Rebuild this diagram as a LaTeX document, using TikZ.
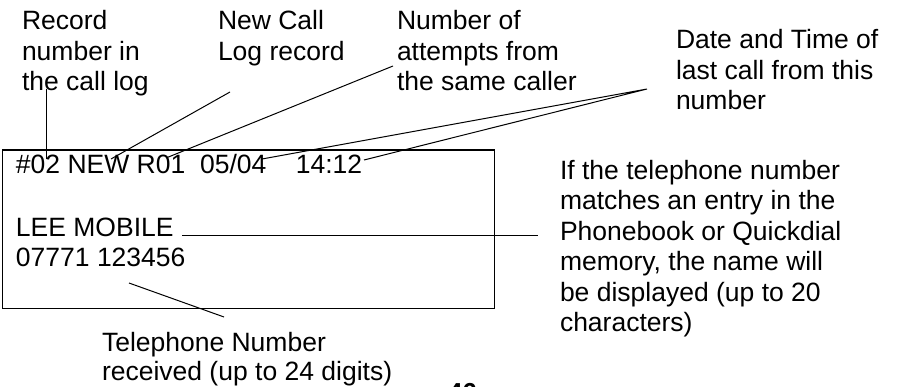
\documentclass[tikz,border=0pt]{standalone}
\usepackage{fontspec}
\setmainfont{Liberation Sans}
\begin{document}
\begin{tikzpicture}[x=1pt,y=-1pt,
  lbl/.style={inner sep=0pt, outer sep=0pt, anchor=base west, align=left,
    font=\fontsize{26.5}{30.5}\selectfont},
  conn/.style={line width=1pt, black},
  boxframe/.style={line width=1.6pt, black}]
\useasboundingbox (0,0) rectangle (897,387);
\clip (0,0) rectangle (897,387);
% labels (anchor = baseline of last line)
\node[lbl] (rec)  at (22,91)  {Record\\number in\\the call log};
\node[lbl] (new)  at (218,60.5) {New Call\\Log record};
\node[lbl] (att)  at (397,91) {Number of\\attempts from\\the same caller};
\node[lbl] (dat)  at (676,110) {Date and Time of\\last call from this\\number};
\node[lbl] (mat)  at (560,331.5) {If the telephone number\\matches an entry in the\\Phonebook or Quickdial\\memory, the name will\\be displayed (up to 20\\characters)};
\node[lbl, font=\fontsize{26.5}{29}\selectfont] (tel)  at (102,381) {Telephone Number\\received (up to 24 digits)};
% display box
\draw[boxframe] (2.5,150) rectangle (494.5,308.5);
\node[lbl] (row1) at (16,174) {\#02 NEW R01~~05/04~~~~14:12};
\node[lbl] (row2) at (16,237) {LEE MOBILE};
\node[lbl] (row3) at (16,267) {07771 123456};
% page number (cut off)
\node[lbl, font=\fontsize{26}{30}\selectfont\bfseries] (pg) at (448,401) {46};
% connector points
\coordinate (recA) at (46,89);
\coordinate (recB) at (46,159);
\coordinate (newA) at (230,92);
\coordinate (newB) at (111,159);
\coordinate (attA) at (393,66);
\coordinate (attB) at (166,158);
\coordinate (datA) at (647,89);
\coordinate (datB) at (262,159);
\coordinate (datC) at (364,160);
\coordinate (leeA) at (182,236);
\coordinate (leeB) at (538,236);
\coordinate (telA) at (129,283);
\coordinate (telB) at (224,317);
\draw[conn] (recA) -- (recB);
\draw[conn] (newA) -- (newB);
\draw[conn] (attA) -- (attB);
\draw[conn] (datB) -- (datA) -- (datC);
\draw[conn] (leeA) -- (leeB);
\draw[conn] (telA) -- (telB);
\end{tikzpicture}
\end{document}
